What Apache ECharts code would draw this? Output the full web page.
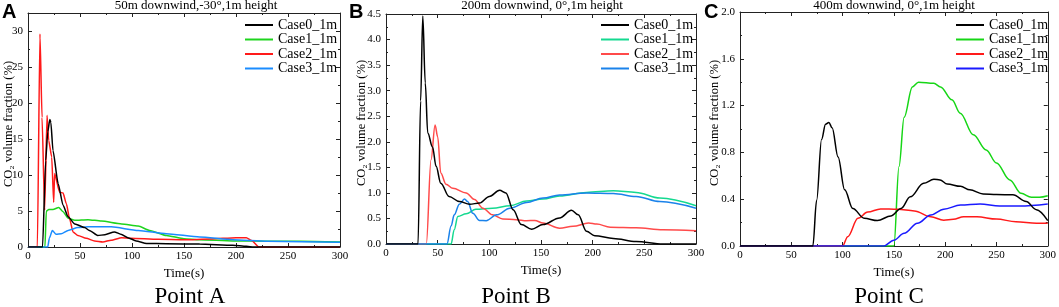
<!DOCTYPE html>
<html>
<head>
<meta charset="utf-8">
<script src="https://cdn.jsdelivr.net/npm/echarts@6/dist/echarts.min.js"></script>
<style>
  html, body { margin: 0; padding: 0; background: #fff; }
  #main { width: 1059px; height: 307px; }
</style>
</head>
<body>
<div id="main"></div>
<script>
// Point A: 50m downwind, -30°
const timeA0 = [0, 14, 17, 19, 21, 22, 24, 29, 33.7, 38.5, 45, 54.5, 59, 67, 74, 83, 90, 96, 104, 114, 133, 165, 197, 210, 217, 300];
const caseA0 = [0, 0, 12, 16, 17.7, 17.3, 13.4, 8.8, 5.8, 4.2, 3.2, 2.7, 2.3, 1.6, 1.7, 2.1, 1.75, 1.3, 0.84, 0.5, 0.46, 0.4, 0.25, 0.1, 0, 0];
const timeA1 = [0, 16.3, 17.6, 20, 24, 29.5, 33.7, 38.5, 45, 57.7, 70.5, 90, 106, 117, 133, 150, 165, 197, 230, 262, 300];
const caseA1 = [0, 0, 5.0, 5.2, 5.2, 5.5, 4.9, 4.0, 3.7, 3.8, 3.6, 3.2, 2.9, 2.3, 1.6, 1.15, 1.0, 0.85, 0.8, 0.8, 0.7];
const timeA2 = [0, 9, 11.5, 13.5, 16, 18.3, 19.9, 22.8, 24.7, 25.6, 30.4, 33.7, 36.9, 40, 43.3, 48, 56, 64, 72, 80, 90, 99, 125, 150, 175, 200, 210, 215, 222, 300];
const caseA2 = [0, 0, 29.6, 18, 5.1, 18.3, 14.8, 12.5, 6.2, 10.2, 7.6, 7.5, 6.0, 3.9, 2.1, 1.6, 1.2, 0.84, 0.7, 0.94, 1.3, 1.2, 1.06, 1.0, 1.1, 1.3, 1.3, 0.9, 0, 0];
const timeA3 = [0, 19, 20.5, 23.4, 27, 32, 38.5, 48, 57.7, 80, 106, 133, 165, 197, 230, 300];
const caseA3 = [0, 0, 1.2, 2.3, 1.76, 1.85, 2.3, 2.7, 2.8, 2.8, 2.3, 1.85, 1.4, 1.0, 0.8, 0.65];

// Point B: 200m downwind, 0°
const timeB0 = [0, 31, 33.5, 35.6, 38, 40.4, 45, 48.5, 53, 61, 71, 81, 90.5, 100, 110, 116, 123, 131, 141, 152, 168, 179.5, 186, 194, 202, 220, 242, 268, 300];
const caseB0 = [0, 0, 2.8, 4.46, 3.15, 2.17, 1.9, 1.52, 1.19, 0.93, 0.83, 0.78, 0.8, 0.93, 1.05, 1.0, 0.67, 0.38, 0.29, 0.38, 0.51, 0.66, 0.57, 0.25, 0.16, 0.11, 0.05, 0, 0];
const timeB1 = [0, 63, 66, 69.5, 77.6, 87, 103, 120, 136, 152, 168, 194, 220, 242, 265, 300];
const caseB1 = [0, 0, 0.28, 0.54, 0.59, 0.68, 0.70, 0.75, 0.84, 0.88, 0.94, 1.01, 1.04, 1.01, 0.90, 0.75];
const timeB2 = [0, 39, 43.6, 47.5, 50, 53, 58, 64.7, 77.6, 85.7, 93.8, 103, 113, 126, 136, 144, 152, 168, 181, 196, 204, 217, 242, 268, 300];
const caseB2 = [0, 0, 1.65, 2.33, 2.1, 1.39, 1.17, 1.09, 1.0, 0.87, 0.70, 0.57, 0.49, 0.475, 0.455, 0.46, 0.41, 0.31, 0.345, 0.41, 0.39, 0.33, 0.32, 0.28, 0.26];
const timeB3 = [0, 59, 63, 66, 71, 76, 79, 84, 90.5, 97, 107, 120, 136, 152, 168, 194, 220, 242, 265, 300];
const caseB3 = [0, 0, 0.35, 0.57, 0.78, 0.88, 0.83, 0.6, 0.46, 0.455, 0.57, 0.70, 0.81, 0.90, 0.96, 1.0, 0.99, 0.93, 0.83, 0.70];

// Point C: 400m downwind, 0°
const timeC0 = [0, 71, 74.7, 79.5, 83.4, 86.6, 89.8, 95.6, 102, 110, 121, 134, 147, 157, 166, 179, 189, 195, 202, 215, 224, 237, 250, 266, 279, 289, 300];
const caseC0 = [0, 0, 0.39, 0.91, 1.04, 1.056, 1.01, 0.76, 0.48, 0.32, 0.237, 0.217, 0.257, 0.32, 0.42, 0.536, 0.57, 0.565, 0.53, 0.51, 0.48, 0.445, 0.44, 0.437, 0.38, 0.31, 0.217];
const timeC1 = [0, 150, 155, 160, 168, 174, 189, 195.5, 206.6, 214.7, 227.5, 240, 250, 263, 274, 284, 292, 300];
const caseC1 = [0, 0, 0.68, 1.1, 1.36, 1.40, 1.39, 1.36, 1.25, 1.135, 0.95, 0.82, 0.71, 0.565, 0.45, 0.417, 0.417, 0.43];
const timeC2 = [0, 100, 105, 115, 124.5, 137, 153.5, 170, 186, 198.6, 208, 218, 231, 250, 269, 289, 300];
const caseC2 = [0, 0, 0.08, 0.237, 0.29, 0.317, 0.314, 0.30, 0.25, 0.22, 0.228, 0.25, 0.25, 0.23, 0.208, 0.194, 0.194];
const timeC3 = [0, 140, 150, 160, 173, 186, 198.6, 215, 234, 253, 272.6, 300];
const caseC3 = [0, 0, 0.05, 0.108, 0.194, 0.265, 0.314, 0.35, 0.36, 0.342, 0.342, 0.36];

const caseNames = ['Case0_1m', 'Case1_1m', 'Case2_1m', 'Case3_1m'];

const serif = '"Liberation Serif", "Times New Roman", serif';

const panels = [
    { key: 'A', times: [timeA0, timeA1, timeA2, timeA3], values: [caseA0, caseA1, caseA2, caseA3],
      colors: ['#000000', '#1ed41e', '#ff1a1a', '#1a8cff'], smooth: 0.2,
      grid: { left: 28, top: 13, width: 312, height: 234 }, yMax: 32.5, yStep: 5, dec: 0,
      legendLeft: 245, title: '50m downwind,-30°,1m height', titleX: 196, pointX: 190,
      letterX: 2, nameX: 9 },
    { key: 'B', times: [timeB0, timeB1, timeB2, timeB3], values: [caseB0, caseB1, caseB2, caseB3],
      colors: ['#000000', '#14d990', '#ff4a4a', '#1a82ea'], smooth: 0.35,
      grid: { left: 386, top: 14, width: 310, height: 230 }, yMax: 4.5, yStep: 0.5, dec: 1,
      legendLeft: 601, title: '200m downwind, 0°,1m height', titleX: 542, pointX: 516,
      letterX: 349, nameX: 362 },
    { key: 'C', times: [timeC0, timeC1, timeC2, timeC3], values: [caseC0, caseC1, caseC2, caseC3],
      colors: ['#000000', '#16d616', '#ff1a1a', '#1a1aff'], smooth: 0.35,
      grid: { left: 740, top: 12, width: 311, height: 234 }, yMax: 2.0, yStep: 0.4, dec: 1,
      legendLeft: 956, title: '400m downwind, 0°,1m height', titleX: 894, pointX: 889,
      letterX: 704, nameX: 715 }
];

const grids = [], xAxes = [], yAxes = [], series = [], legends = [], graphics = [];

panels.forEach((p, i) => {
    grids.push(Object.assign({ show: false }, p.grid));
    const tick = { show: true, inside: true, length: 4, lineStyle: { color: '#222' } };
    const minor = { show: true, splitNumber: 2, length: 2, lineStyle: { color: '#222' } };
    const line = { show: true, onZero: false, lineStyle: { color: '#222', width: 1 } };
    // bottom axis with labels
    xAxes.push({
        type: 'value', gridIndex: i, min: 0, max: 300, interval: 50,
        axisLine: line, axisTick: tick, minorTick: minor, splitLine: { show: false },
        axisLabel: { color: '#000', fontFamily: serif, fontSize: 11, margin: 4 },
        name: 'Time(s)', nameLocation: 'middle', nameGap: 13,
        nameTextStyle: { color: '#000', fontFamily: serif, fontSize: 13 }
    });
    // top frame
    xAxes.push({
        type: 'value', gridIndex: i, position: 'top', min: 0, max: 300, interval: 50,
        axisLine: line, axisTick: tick, minorTick: minor, splitLine: { show: false },
        axisLabel: { show: false }
    });
    yAxes.push({
        type: 'value', gridIndex: i, min: 0, max: p.yMax, interval: p.yStep,
        axisLine: line, axisTick: tick, minorTick: minor, splitLine: { show: false },
        axisLabel: {
            color: '#000', fontFamily: serif, fontSize: 11, margin: 5,
            formatter: v => (Math.abs(v / p.yStep - Math.round(v / p.yStep)) < 1e-6 ? v.toFixed(p.dec) : '')
        }
    });
    yAxes.push({
        type: 'value', gridIndex: i, position: 'right', min: 0, max: p.yMax, interval: p.yStep,
        axisLine: line, axisTick: tick, minorTick: minor, splitLine: { show: false },
        axisLabel: { show: false }
    });

    const names = [];
    p.values.forEach((vals, k) => {
        const name = p.key + ':' + caseNames[k];
        names.push(name);
        series.push({
            name: name, type: 'line', xAxisIndex: i * 2, yAxisIndex: i * 2,
            data: p.times[k].map((t, j) => [t, vals[j]]),
            showSymbol: false, symbol: 'none', smooth: p.smooth, smoothMonotone: 'x',
            lineStyle: { color: p.colors[k], width: 1.5 }, itemStyle: { color: p.colors[k] },
            z: k === 0 ? 5 : 3
        });
    });
    legends.push({
        data: names, orient: 'vertical', left: p.legendLeft, top: 18,
        icon: 'rect', itemWidth: 28, itemHeight: 2, itemGap: 0.5, padding: 0,
        formatter: n => n.slice(2),
        textStyle: { fontFamily: serif, fontSize: 14, lineHeight: 14, color: '#000' }
    });

    const yc = p.grid.top + p.grid.height / 2 - 6;
    graphics.push(
        { type: 'text', x: p.titleX, y: 6, style: { text: p.title, font: '13px ' + serif, fill: '#000', textAlign: 'center', textVerticalAlign: 'middle', align: 'center', verticalAlign: 'middle' } },
        { type: 'text', x: p.letterX, y: 2, style: { text: p.key, font: 'bold 20px "Liberation Sans", Arial, sans-serif', fill: '#000', textAlign: 'left', textVerticalAlign: 'top', align: 'left', verticalAlign: 'top' } },
        { type: 'text', x: p.nameX, y: yc, rotation: Math.PI / 2, style: { text: 'CO₂ volume fraction (%)', font: '12.5px ' + serif, fill: '#000', textAlign: 'center', textVerticalAlign: 'middle', align: 'center', verticalAlign: 'middle' } },
        { type: 'text', x: p.pointX, y: 297, style: { text: 'Point ' + p.key, font: '23px ' + serif, fill: '#000', textAlign: 'center', textVerticalAlign: 'middle', align: 'center', verticalAlign: 'middle' } }
    );
});

const chart = echarts.init(document.getElementById('main'), null, { renderer: 'canvas' });
chart.setOption({
    animation: false,
    backgroundColor: '#fff',
    grid: grids,
    xAxis: xAxes,
    yAxis: yAxes,
    legend: legends,
    series: series,
    graphic: graphics
});
</script>
</body>
</html>
